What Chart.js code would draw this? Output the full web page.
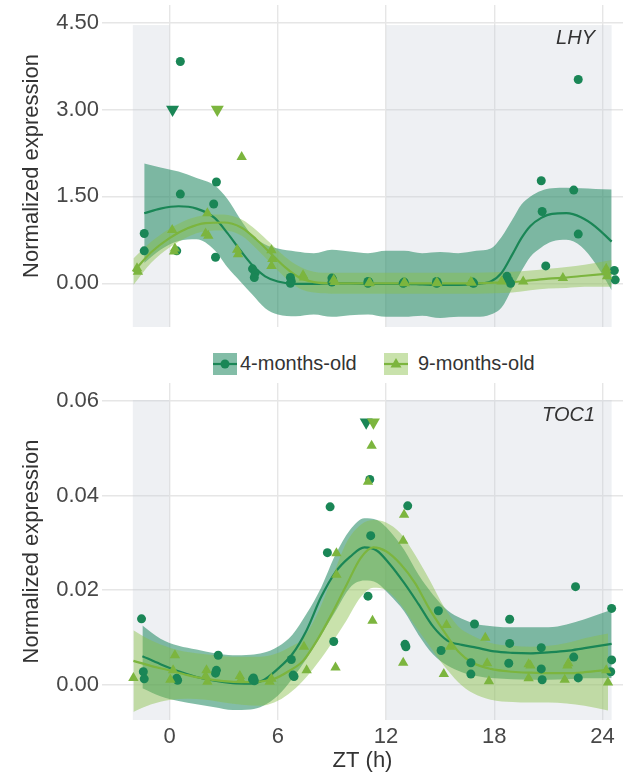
<!DOCTYPE html>
<html lang="en">
<head>
  <meta charset="UTF-8" />
  <title>LHY / TOC1 normalized expression</title>
  <script src="https://cdn.jsdelivr.net/npm/chart.js"></script>
  <style>
    body {
      margin: 0;
      width: 623px;
      height: 772px;
      position: relative;
      overflow: hidden;
      background: #fff;
      font-family: "Liberation Sans", Arial, sans-serif;
    }
    canvas { position: absolute; left: 0; }
    #lhyChart { top: 0; }
    #tocChart { top: 380px; }
    .key { position: absolute; top: 353px; }
    .lbl { position: absolute; top: 351px; font-size: 20px; line-height: 24px; color: #333; }
  </style>
</head>
<body>
  <canvas id="lhyChart" width="623" height="340"></canvas>

  <!-- shared legend -->
  <svg class="key" style="left:213px" width="24" height="22">
    <rect width="24" height="22" fill="rgba(30,135,95,0.55)"/>
    <line x1="0" y1="11" x2="24" y2="11" stroke="#1a8656" stroke-width="2.2"/>
    <circle cx="12" cy="11" r="4.5" fill="#1a8656"/>
  </svg>
  <span class="lbl" style="left:240px">4-months-old</span>
  <svg class="key" style="left:384px" width="24" height="22">
    <rect width="24" height="22" fill="rgba(135,190,70,0.45)"/>
    <line x1="0" y1="11" x2="24" y2="11" stroke="#7cb53e" stroke-width="2.2"/>
    <polygon points="12,5 17.5,14.5 6.5,14.5" fill="#7cb53e"/>
  </svg>
  <span class="lbl" style="left:418px">9-months-old</span>

  <canvas id="tocChart" width="623" height="392"></canvas>

  <script>
    // ---- shared axis / light regime ----
    const xTicks = [0, 6, 12, 18, 24];
    const darkPeriods = [[-2.03, 0], [12, 24.5]];

    // ---- LHY ----
    const lhyTicks = [0, 1.5, 3, 4.5];
    const lhy4PtX = [-1.4, -1.4, 0.6, 0.6, 0.4, 2.6, 2.45, 2.55, 4.6, 4.75, 4.7, 6.7, 6.75, 6.7, 9.0, 9.05, 9.0,
      11.0, 11.05, 11.0, 13.0, 13.0, 12.95, 14.8, 14.85, 14.8, 16.8, 16.8, 16.85, 18.7, 18.9, 18.8,
      20.6, 20.65, 20.85, 22.4, 22.65, 22.65, 24.65, 24.7];
    const lhy4PtY = [0.86, 0.56, 3.83, 1.54, 0.56, 1.75, 1.37, 0.45, 0.25, 0.18, 0.1, 0.1, 0.03, 0.0, 0.09, 0.05, 0.02,
      0.03, 0.02, 0.0, 0.02, 0.01, 0.0, 0.03, 0.01, 0.0, 0.02, 0.01, 0.0, 0.12, 0.0, 0.05,
      1.77, 1.24, 0.30, 1.61, 3.52, 0.85, 0.22, 0.06];
    const lhy9PtX = [-1.8, -1.75, 0.15, 0.3, 0.25, 2.0, 2.1, 2.15, 4.0, 3.75, 3.8, 5.65, 5.7, 5.65, 7.4, 7.45,
      9.1, 9.15, 11.1, 11.05, 13.0, 13.05, 14.8, 14.85, 16.7, 16.75, 18.4, 19.6, 21.8, 24.2, 24.2, 24.25];
    const lhy9PtY = [0.26, 0.2, 0.92, 0.6, 0.55, 0.86, 1.21, 0.82, 2.18, 0.58, 0.5, 0.57, 0.42, 0.3, 0.14, 0.1,
      0.06, 0.02, 0.01, 0.0, 0.01, 0.0, 0.01, 0.0, 0.02, 0.01, 0.03, 0.03, 0.09, 0.25, 0.2, 0.12];

    const lhy4FitX = [-1.4, -0.5, 0.5, 1.5, 2.5, 3.2, 3.9, 4.6, 5.3, 6.0, 7, 8, 9, 10, 11, 12, 13, 14, 15, 16, 17,
      17.8, 18.4, 19.0, 19.5, 20.0, 20.6, 21.2, 22.0, 22.8, 23.6, 24.5];
    const lhy4Fit = [1.21, 1.29, 1.33, 1.29, 1.13, 0.87, 0.58, 0.31, 0.12, 0.03, -0.01, -0.01, 0.0, 0.0, -0.01,
      -0.01, -0.01, -0.02, -0.03, -0.03, -0.01, 0.03, 0.18, 0.5, 0.78, 0.99, 1.13, 1.2, 1.21, 1.14, 0.98, 0.72];
    const lhy4Hi = [2.07, 2.0, 1.93, 1.82, 1.69, 1.46, 1.12, 0.82, 0.67, 0.6, 0.55, 0.52, 0.58, 0.55, 0.52,
      0.56, 0.56, 0.52, 0.54, 0.52, 0.56, 0.6, 0.8, 1.1, 1.36, 1.5, 1.6, 1.64, 1.65, 1.64, 1.63, 1.62];
    const lhy4Lo = [0.35, 0.58, 0.73, 0.76, 0.57, 0.28, 0.04, -0.2, -0.43, -0.54, -0.57, -0.54, -0.58, -0.55, -0.54,
      -0.58, -0.58, -0.56, -0.6, -0.58, -0.58, -0.54, -0.42, -0.08, 0.21, 0.46, 0.62, 0.72, 0.75, 0.64, 0.34, -0.12];

    const lhy9FitX = [-2.0, -1.0, 0, 1, 2, 3, 4, 4.8, 5.6, 6.4, 7.2, 8, 9, 10, 11, 12, 13, 14, 15, 16, 17, 18,
      19, 20, 21, 22, 23, 24.5];
    const lhy9Fit = [0.2, 0.54, 0.78, 0.95, 1.04, 1.05, 0.96, 0.76, 0.52, 0.28, 0.1, 0.02, 0.0, 0.0, 0.0, 0.0,
      0.0, 0.0, 0.0, 0.0, 0.0, 0.01, 0.02, 0.05, 0.08, 0.1, 0.13, 0.17];
    const lhy9Hi = [0.43, 0.72, 0.94, 1.1, 1.18, 1.19, 1.1, 0.92, 0.69, 0.46, 0.29, 0.2, 0.18, 0.18, 0.18, 0.18,
      0.18, 0.18, 0.18, 0.18, 0.18, 0.19, 0.2, 0.22, 0.25, 0.28, 0.32, 0.4];
    const lhy9Lo = [-0.03, 0.36, 0.62, 0.8, 0.9, 0.91, 0.82, 0.6, 0.35, 0.1, -0.09, -0.16, -0.18, -0.18, -0.18,
      -0.18, -0.18, -0.18, -0.18, -0.18, -0.18, -0.17, -0.16, -0.12, -0.09, -0.08, -0.06, -0.06];

    const lhyPeakTimes = [0.17, 2.65];   // 4-months, 9-months
    const lhyPeakLevel = 3.0;

    // ---- TOC1 ----
    const tocTicks = [0, 0.02, 0.04, 0.06];
    const toc4PtX = [-1.55, -1.45, -1.4, 0.4, 0.45, 2.7, 2.6, 2.55, 4.65, 4.7, 4.6, 6.75, 6.85, 6.9,
      8.9, 8.75, 9.1, 11.1, 11.15, 11.0, 13.2, 13.05, 13.1, 14.9, 15.05, 16.9, 16.7, 16.7,
      18.85, 18.85, 18.8, 20.6, 20.6, 20.65, 22.5, 22.4, 22.65, 24.5, 24.5, 24.45];
    const toc4PtY = [0.0139, 0.0027, 0.0012, 0.0013, 0.0009, 0.0062, 0.003, 0.0024, 0.0014, 0.0008, 0.0011,
      0.0053, 0.002, 0.0017, 0.0376, 0.0279, 0.0091, 0.0434, 0.0315, 0.0187, 0.0378, 0.0085, 0.008,
      0.0156, 0.0072, 0.0128, 0.0046, 0.0022, 0.0138, 0.0087, 0.0045, 0.0078, 0.0033, 0.001,
      0.0207, 0.0058, 0.0014, 0.0161, 0.0052, 0.0027];
    const toc9PtX = [-2.0, 0.3, 0.2, 0.05, 2.05, 2.1, 2.0, 3.9, 3.95, 5.55, 5.65, 7.45, 7.6, 9.25, 9.25, 9.2,
      11.2, 11.0, 11.25, 13.0, 12.95, 12.95, 15.35, 15.55, 15.2, 17.5, 17.6, 17.7, 19.9, 20.0, 19.9,
      22.1, 21.9, 22.05, 24.2, 24.3];
    const toc9PtY = [0.0014, 0.0062, 0.003, 0.001, 0.003, 0.0006, 0.0018, 0.0018, 0.001, 0.0006, 0.0012,
      0.008, 0.003, 0.0278, 0.0232, 0.0036, 0.0505, 0.0429, 0.0135, 0.0359, 0.0304, 0.0046,
      0.0126, 0.008, 0.0022, 0.0099, 0.0045, 0.0007, 0.0043, 0.004, 0.0013, 0.0045, 0.001, 0.004,
      0.003, 0.0004];

    const toc4FitX = [-1.5, -0.5, 0.5, 1.5, 2.5, 3.5, 4.5, 5.2, 6, 6.8, 7.6, 8.4, 9.2, 10, 10.8, 11.5, 12.2, 13,
      13.8, 14.6, 15.4, 16.2, 17, 18, 19, 20, 21, 22, 23, 24.5];
    const toc4Fit = [0.006, 0.0043, 0.0028, 0.0016, 0.0008, 0.0003, 0.0002, 0.0009, 0.0033, 0.0064, 0.0115,
      0.0185, 0.0238, 0.027, 0.029, 0.0283, 0.0255, 0.0215, 0.017, 0.0123, 0.0093, 0.0084, 0.0078, 0.007,
      0.0067, 0.0066, 0.0068, 0.0071, 0.0077, 0.0086];
    const toc4Hi = [0.0125, 0.0097, 0.0082, 0.0074, 0.0066, 0.0062, 0.0063, 0.0067, 0.008, 0.0105, 0.015,
      0.0205, 0.0275, 0.0327, 0.0352, 0.0348, 0.0325, 0.0285, 0.0232, 0.019, 0.0157, 0.0139, 0.0128, 0.0123,
      0.0121, 0.0121, 0.0121, 0.0127, 0.0138, 0.0158];
    const toc4Lo = [-0.0008, -0.0025, -0.0035, -0.0042, -0.0048, -0.0054, -0.0053, -0.0045, -0.0024, 0.0012,
      0.0055, 0.0104, 0.0155, 0.0205, 0.022, 0.0215, 0.019, 0.0155, 0.0105, 0.0064, 0.004, 0.0026, 0.0018,
      0.0013, 0.0011, 0.001, 0.001, 0.0011, 0.0013, 0.0014];

    const toc9FitX = [-2.0, -1, 0, 1, 2, 3, 4, 5, 5.8, 6.6, 7.4, 8.2, 9, 9.8, 10.6, 11.3, 12, 12.8, 13.6, 14.4,
      15.2, 16, 16.8, 17.8, 19, 20, 21, 22, 23, 24.3];
    const toc9Fit = [0.005, 0.0039, 0.003, 0.002, 0.0012, 0.0007, 0.0005, 0.0006, 0.0012, 0.0028, 0.005, 0.0095,
      0.015, 0.021, 0.0268, 0.029, 0.0282, 0.0255, 0.0215, 0.016, 0.0113, 0.007, 0.0046, 0.0033, 0.0027,
      0.0025, 0.0024, 0.0024, 0.0026, 0.0031];
    const toc9Hi = [0.0115, 0.0093, 0.0078, 0.0069, 0.0064, 0.006, 0.0059, 0.0059, 0.0064, 0.0078, 0.0098, 0.015,
      0.0225, 0.03, 0.0338, 0.0348, 0.0343, 0.032, 0.0275, 0.0222, 0.0165, 0.0123, 0.0103, 0.0088, 0.0082,
      0.008, 0.0082, 0.0088, 0.0098, 0.0108];
    const toc9Lo = [-0.0058, -0.0042, -0.0033, -0.003, -0.0032, -0.0038, -0.0043, -0.0045, -0.0038, -0.002,
      0.0008, 0.0045, 0.0088, 0.0135, 0.0185, 0.0205, 0.02, 0.017, 0.0125, 0.0082, 0.004, 0.0005, -0.0018,
      -0.0032, -0.0037, -0.0038, -0.0038, -0.004, -0.0045, -0.0055];

    const tocPeakTimes = [10.9, 11.3];
    const tocPeakLevel = 0.0555;

    // ---- styling ----
    const darkGreen = '#1a8656';
    const lightGreen = '#7cb53e';
    const tealFill = 'rgba(30,135,95,0.55)';
    const limeFill = 'rgba(135,190,70,0.45)';
    const gridColor = '#e6e6e6';

    Chart.defaults.font.family = '"Liberation Sans", Arial, sans-serif';

    function pts(xs, ys) {
      return xs.map((x, i) => ({ x: x, y: ys[i] }));
    }

    // grey boxes for the dark periods, under the data but over the grid
    const shadePlugin = {
      id: 'shade',
      beforeDatasetsDraw(chart, args, opts) {
        const { ctx, chartArea, scales } = chart;
        const yTop = scales.y.getPixelForValue(opts.top);
        ctx.save();
        ctx.fillStyle = 'rgba(200,205,215,0.3)';
        opts.periods.forEach(p => {
          const x0 = scales.x.getPixelForValue(p[0]);
          const x1 = scales.x.getPixelForValue(p[1]);
          ctx.fillRect(x0, yTop, x1 - x0, chartArea.bottom - yTop);
        });
        ctx.restore();
      }
    };

    // gene name in the top-right corner
    const geneLabelPlugin = {
      id: 'geneLabel',
      afterDatasetsDraw(chart, args, opts) {
        const ctx = chart.ctx;
        ctx.save();
        ctx.font = 'italic 20px "Liberation Sans", Arial, sans-serif';
        ctx.fillStyle = '#333';
        ctx.textAlign = 'right';
        ctx.textBaseline = 'middle';
        ctx.fillText(opts.text, opts.x, opts.y);
        ctx.restore();
      }
    };

    function buildDatasets(g) {
      const hidden = { borderWidth: 0, pointRadius: 0, cubicInterpolationMode: 'monotone' };
      return [
        // ribbons (index 0-3)
        Object.assign({ data: pts(g.fit4x, g.lo4), fill: false, order: 20 }, hidden),
        Object.assign({ data: pts(g.fit4x, g.hi4), fill: '-1', backgroundColor: tealFill, order: 20 }, hidden),
        Object.assign({ data: pts(g.fit9x, g.lo9), fill: false, order: 19 }, hidden),
        Object.assign({ data: pts(g.fit9x, g.hi9), fill: '-1', backgroundColor: limeFill, order: 19 }, hidden),
        // fitted lines
        { data: pts(g.fit4x, g.fit4), borderColor: darkGreen, borderWidth: 2.2, pointRadius: 0,
          fill: false, cubicInterpolationMode: 'monotone', order: 10 },
        { data: pts(g.fit9x, g.fit9), borderColor: lightGreen, borderWidth: 2.2, pointRadius: 0,
          fill: false, cubicInterpolationMode: 'monotone', order: 9 },
        // replicate points
        { data: pts(g.pt4x, g.pt4y), showLine: false, pointStyle: 'circle', pointRadius: 4.5,
          pointBorderWidth: 0, pointBackgroundColor: darkGreen, order: 5 },
        { data: pts(g.pt9x, g.pt9y), showLine: false, pointStyle: 'triangle', pointRadius: 6,
          pointBorderWidth: 0, pointBackgroundColor: lightGreen, order: 4 },
        // peak markers
        { data: [{ x: g.peakX[0], y: g.peakY }], showLine: false, pointStyle: 'triangle', pointRotation: 180,
          pointRadius: 7.5, pointBorderWidth: 0, pointBackgroundColor: darkGreen, order: 2 },
        { data: [{ x: g.peakX[1], y: g.peakY }], showLine: false, pointStyle: 'triangle', pointRotation: 180,
          pointRadius: 7.5, pointBorderWidth: 0, pointBackgroundColor: lightGreen, order: 1 }
      ];
    }

    function makeChart(id, g) {
      return new Chart(document.getElementById(id), {
        type: 'line',
        data: { datasets: buildDatasets(g) },
        options: {
          responsive: false,
          animation: false,
          events: [],
          layout: { autoPadding: false, padding: { top: g.padTop, left: 0, right: 0, bottom: 0 } },
          plugins: {
            legend: { display: false },
            tooltip: { enabled: false },
            shade: { periods: darkPeriods, top: g.shadeTop },
            geneLabel: { text: g.gene, x: 595, y: g.labelY }
          },
          scales: {
            x: {
              type: 'linear',
              min: -3.74,
              max: 25.13,
              afterBuildTicks: s => { s.ticks = xTicks.map(v => ({ value: v })); },
              afterFit: s => { s.height = g.xHeight; s.paddingLeft = 0; s.paddingRight = 0; },
              border: { display: false },
              grid: { color: gridColor, lineWidth: 1.4, drawTicks: false },
              ticks: { display: g.showX, font: { size: 22 }, color: '#474747', padding: 4 },
              title: { display: g.showX, text: 'ZT (h)', font: { size: 22, lineHeight: 1 }, color: '#333', padding: 0 }
            },
            y: {
              min: g.yMin,
              max: g.yMax,
              afterBuildTicks: s => { s.ticks = g.yTicks.map(v => ({ value: v })); },
              afterFit: s => { s.width = 102; s.paddingTop = 0; s.paddingBottom = 0; },
              border: { display: false },
              grid: { color: gridColor, lineWidth: 1.4, drawTicks: false },
              ticks: { callback: v => v.toFixed(2), font: { size: 22 }, color: '#474747', padding: 3 },
              title: { display: true, text: 'Normalized expression', font: { size: 22 }, color: '#333',
                       padding: { top: 19, bottom: 0 } }
            }
          }
        },
        plugins: [shadePlugin, geneLabelPlugin]
      });
    }

    makeChart('lhyChart', {
      gene: 'LHY', labelY: 38, padTop: 5, xHeight: 13, showX: false,
      yMin: -0.755, yMax: 4.806, yTicks: lhyTicks, shadeTop: 4.46,
      pt4x: lhy4PtX, pt4y: lhy4PtY, pt9x: lhy9PtX, pt9y: lhy9PtY,
      fit4x: lhy4FitX, fit4: lhy4Fit, hi4: lhy4Hi, lo4: lhy4Lo,
      fit9x: lhy9FitX, fit9: lhy9Fit, hi9: lhy9Hi, lo9: lhy9Lo,
      peakX: lhyPeakTimes, peakY: lhyPeakLevel
    });

    makeChart('tocChart', {
      gene: 'TOC1', labelY: 35, padTop: 3, xHeight: 52, showX: true,
      yMin: -0.00751, yMax: 0.0638, yTicks: tocTicks, shadeTop: 0.0602,
      pt4x: toc4PtX, pt4y: toc4PtY, pt9x: toc9PtX, pt9y: toc9PtY,
      fit4x: toc4FitX, fit4: toc4Fit, hi4: toc4Hi, lo4: toc4Lo,
      fit9x: toc9FitX, fit9: toc9Fit, hi9: toc9Hi, lo9: toc9Lo,
      peakX: tocPeakTimes, peakY: tocPeakLevel
    });
  </script>
</body>
</html>
